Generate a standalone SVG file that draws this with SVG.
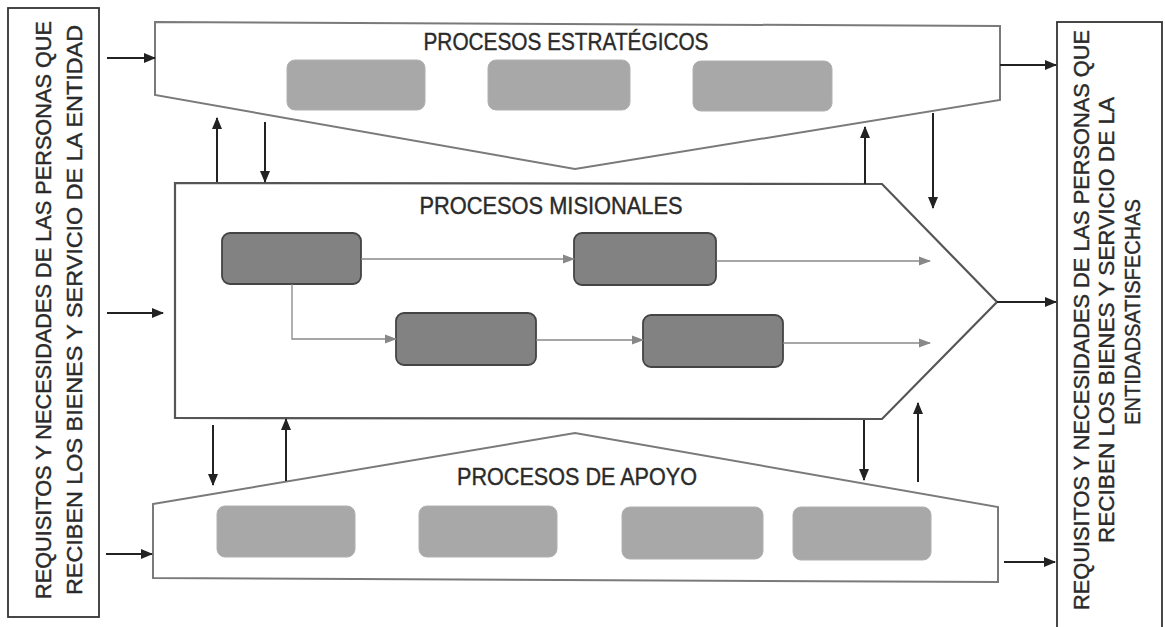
<svg xmlns="http://www.w3.org/2000/svg" width="1165" height="627" viewBox="0 0 1165 627">
<style>
.shape{fill:#fff;stroke:#7a7a7a;stroke-width:2}
.mid{fill:#fff;stroke:#555;stroke-width:2.2}
.frame{fill:#fff;stroke:#333;stroke-width:1.8}
.light{fill:#a8a8a8;stroke:#b0b0b0;stroke-width:1}
.dark{fill:#828282;stroke:#444;stroke-width:1.8}
.title{font-family:"Liberation Sans",Arial,sans-serif;font-size:24px;fill:#2a2a2a;stroke:#2a2a2a;stroke-width:0.4;text-anchor:middle}
.side{font-family:"Liberation Sans",Arial,sans-serif;font-size:22px;fill:#2a2a2a;stroke:#2a2a2a;stroke-width:0.4;text-anchor:middle}
.big{stroke:#222;stroke-width:2;fill:none;marker-end:url(#ah)}
.thin{stroke:#888;stroke-width:1.3;fill:none;marker-end:url(#ag)}
</style>
<defs>
<marker id="ah" markerUnits="userSpaceOnUse" markerWidth="12" markerHeight="10" refX="11" refY="5" orient="auto">
<path d="M0,0 L12,5 L0,10 Z" fill="#222"/>
</marker>
<marker id="ag" markerUnits="userSpaceOnUse" markerWidth="12" markerHeight="10" refX="11" refY="5" orient="auto">
<path d="M0,0.5 L12,5 L0,9.5 Z" fill="#888"/>
</marker>
</defs>
<rect width="1165" height="627" fill="#fff"/>

<g id="entrada">
<rect class="frame" x="8" y="8" width="91" height="609"/>
<text class="side" transform="translate(51,310) rotate(-90)" textLength="578" lengthAdjust="spacingAndGlyphs">REQUISITOS Y NECESIDADES DE LAS PERSONAS QUE</text>
<text class="side" transform="translate(82,310) rotate(-90)" textLength="570" lengthAdjust="spacingAndGlyphs">RECIBEN LOS BIENES Y SERVICIO DE LA ENTIDAD</text>
</g>

<g id="salida">
<rect class="frame" x="1057" y="22" width="105" height="620"/>
<text class="side" transform="translate(1089,320) rotate(-90)" textLength="580" lengthAdjust="spacingAndGlyphs">REQUISITOS Y NECESIDADES DE LAS PERSONAS QUE</text>
<text class="side" transform="translate(1114,320) rotate(-90)" textLength="446" lengthAdjust="spacingAndGlyphs">RECIBEN LOS BIENES Y SERVICIO DE LA</text>
<text class="side" transform="translate(1140,312) rotate(-90)" textLength="226" lengthAdjust="spacingAndGlyphs">ENTIDADSATISFECHAS</text>
</g>

<g id="estrategicos">
<polygon class="shape" points="155,22 1000,26 1000,100 575,169 155,95"/>
<text class="title" x="566" y="50" textLength="285" lengthAdjust="spacingAndGlyphs">PROCESOS ESTRATÉGICOS</text>
<rect class="light" x="287" y="60" width="138" height="50" rx="8"/>
<rect class="light" x="488" y="60" width="142" height="50" rx="8"/>
<rect class="light" x="693" y="61" width="139" height="50" rx="8"/>
</g>

<g id="misionales">
<polygon class="mid" points="175,183 882,184 997,302 882,419 175,418"/>
<text class="title" x="551" y="214" textLength="263" lengthAdjust="spacingAndGlyphs">PROCESOS MISIONALES</text>
<rect class="dark" x="222" y="233" width="139" height="51" rx="8"/>
<rect class="dark" x="574" y="233" width="142" height="52" rx="8"/>
<rect class="dark" x="396" y="313" width="140" height="52" rx="8"/>
<rect class="dark" x="643" y="315" width="140" height="52" rx="8"/>
</g>

<g id="apoyo">
<polygon class="shape" points="153,504 575,433 998,507 998,582 153,578"/>
<text class="title" x="577" y="485" textLength="240" lengthAdjust="spacingAndGlyphs">PROCESOS DE APOYO</text>
<rect class="light" x="217" y="506" width="138" height="51" rx="8"/>
<rect class="light" x="419" y="506" width="138" height="51" rx="8"/>
<rect class="light" x="622" y="507" width="141" height="52" rx="8"/>
<rect class="light" x="793" y="507" width="138" height="53" rx="8"/>
</g>

<g id="conectores">
<line class="big" x1="107" y1="58" x2="155" y2="58"/>
<line class="big" x1="107" y1="313" x2="163" y2="313"/>
<line class="big" x1="106" y1="554" x2="152" y2="554"/>
<line class="big" x1="1000" y1="65" x2="1056" y2="65"/>
<line class="big" x1="997" y1="302" x2="1056" y2="302"/>
<line class="big" x1="1004" y1="562" x2="1055" y2="562"/>
<line class="big" x1="217" y1="182" x2="217" y2="118"/>
<line class="big" x1="265" y1="122" x2="265" y2="182"/>
<line class="big" x1="865" y1="184" x2="865" y2="127"/>
<line class="big" x1="933" y1="113" x2="933" y2="208"/>
<line class="big" x1="213" y1="425" x2="213" y2="485"/>
<line class="big" x1="286" y1="481" x2="286" y2="419"/>
<line class="big" x1="864" y1="420" x2="864" y2="480"/>
<line class="big" x1="918" y1="482" x2="918" y2="403"/>
<line class="thin" x1="361" y1="259" x2="574" y2="259"/>
<polyline class="thin" points="292,284 292,339 396,339"/>
<line class="thin" x1="536" y1="340" x2="643" y2="340"/>
<line class="thin" x1="716" y1="261" x2="930" y2="261"/>
<line class="thin" x1="783" y1="343" x2="930" y2="343"/>
</g>
</svg>
